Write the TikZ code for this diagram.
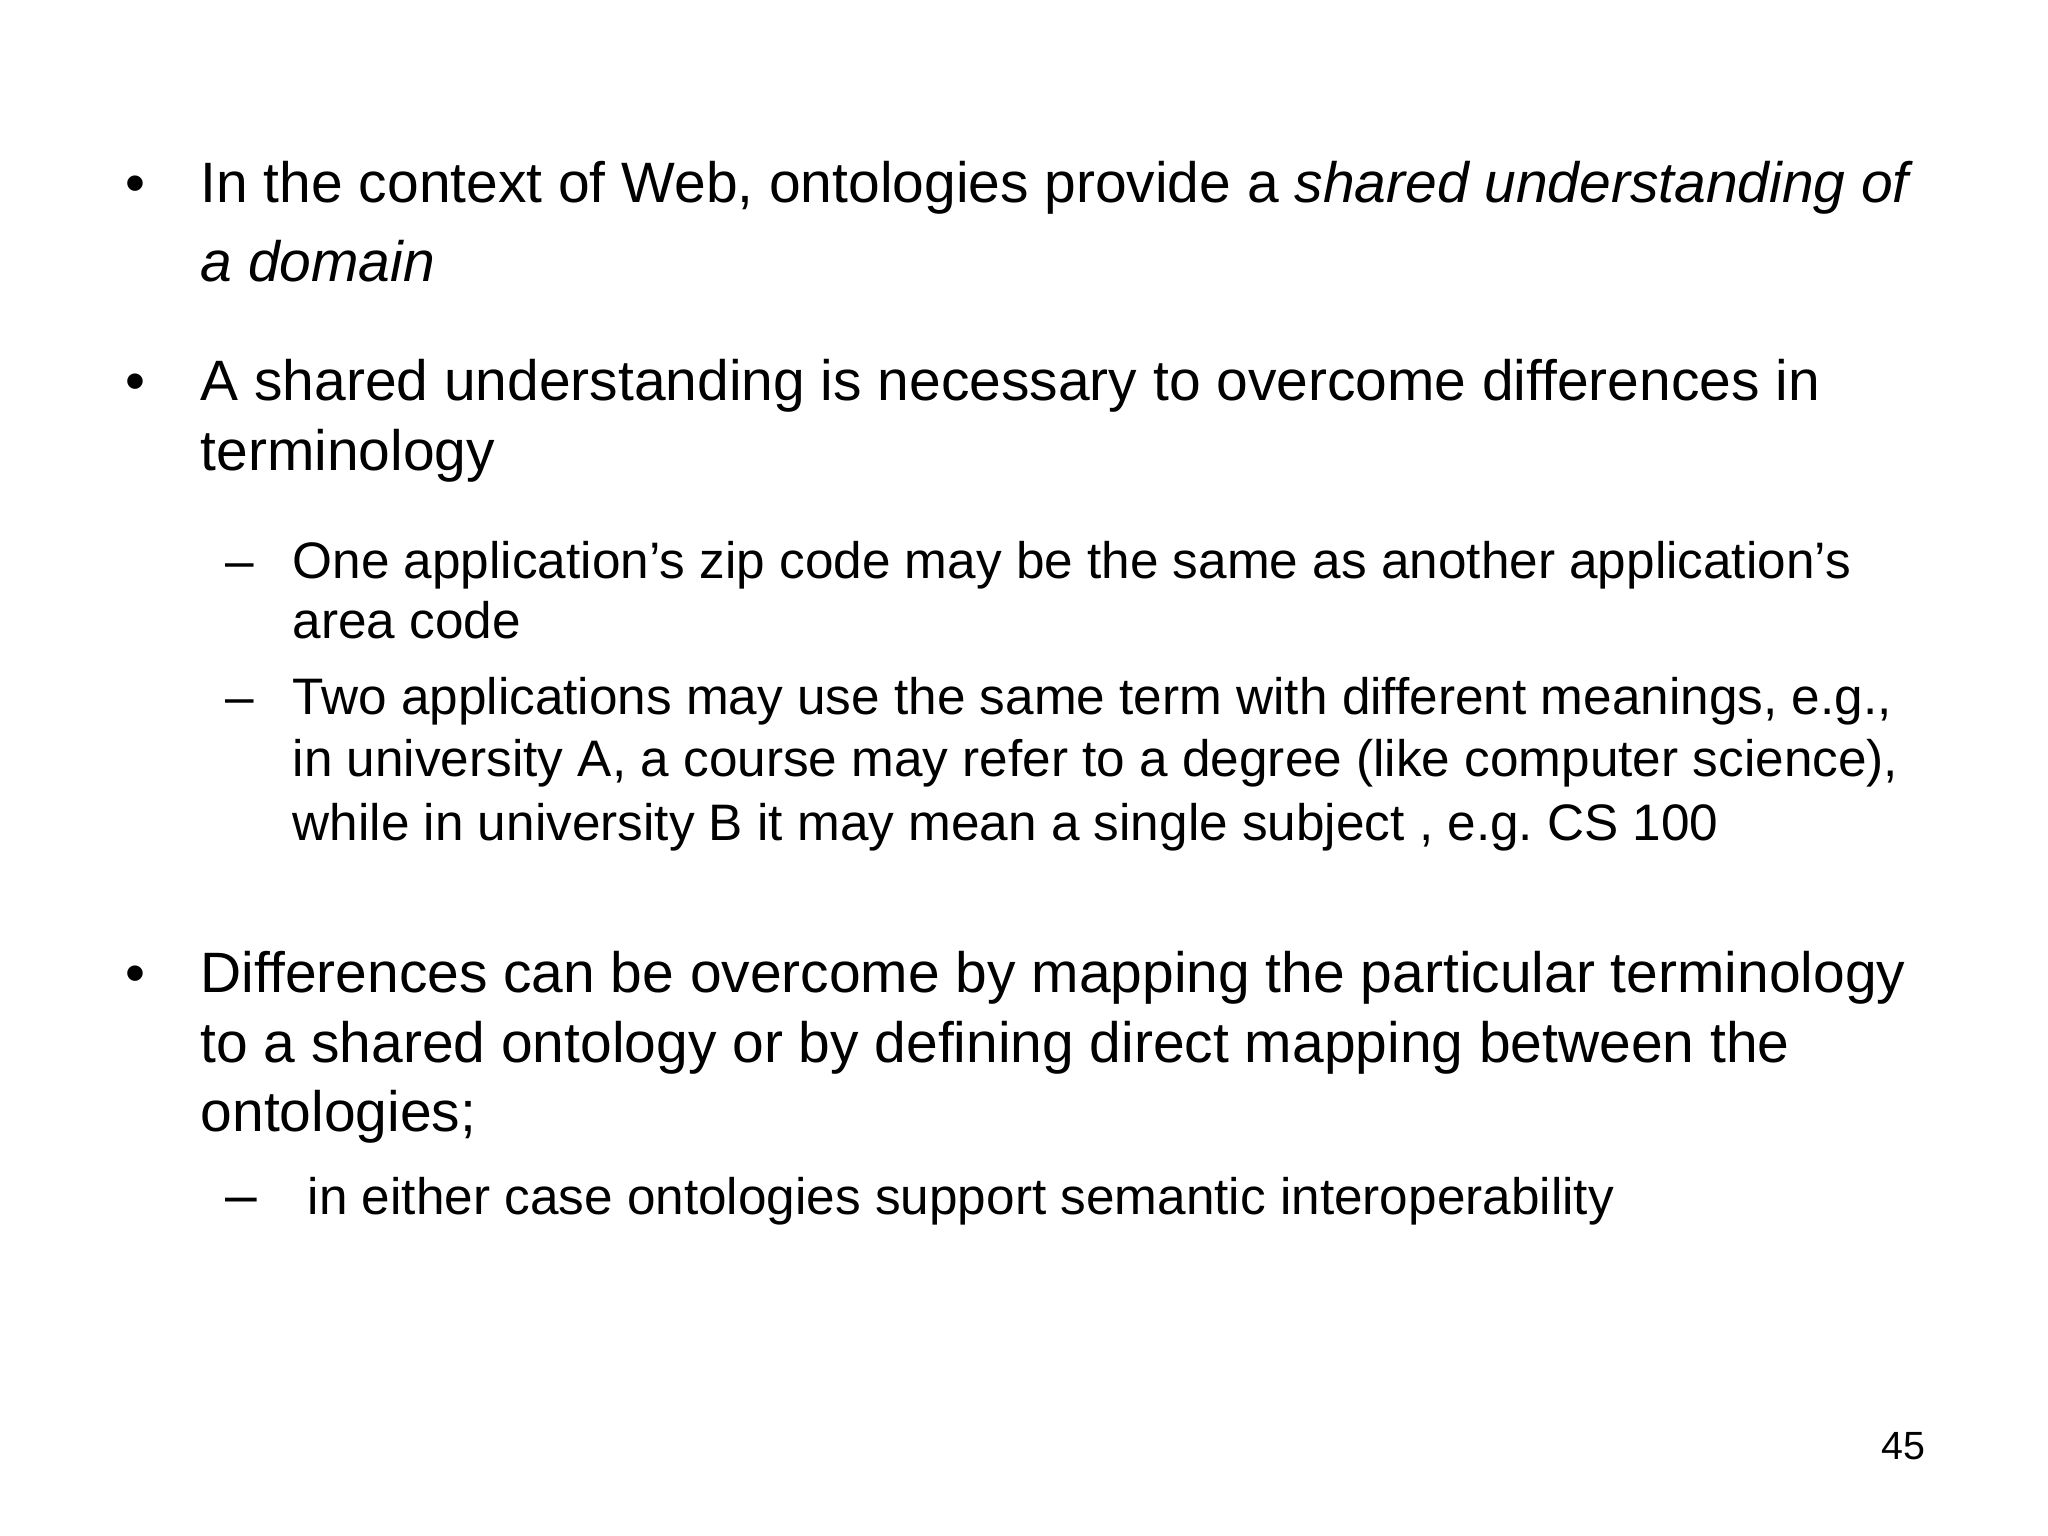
\documentclass[tikz,border=0pt]{standalone}
\usepackage{fontspec}
\setmainfont{Liberation Sans}
\frenchspacing
\begin{document}
\begin{tikzpicture}[
  big/.style={anchor=base west,inner sep=0pt,font=\fontsize{16.2}{19}\selectfont},
  sml/.style={anchor=base west,inner sep=0pt,font=\fontsize{14.6}{17}\selectfont}]
\useasboundingbox (0,0) rectangle (20.48,15.36);
\node[big] (b1) at (1.25,13.33) {•};
\node[big] (l1) at (2.0,13.33) {In the context of Web, ontologies provide a \textit{shared understanding of}};
\node[big] (l2) at (2.0,12.54) {\textit{a domain}};
\node[big] (b2) at (1.25,11.35) {•};
\node[big] (l3) at (2.0,11.35) {A shared understanding is necessary to overcome differences in};
\node[big] (l4) at (2.0,10.65) {terminology};
\node[sml] (d1) at (2.25,9.57) {–};
\node[sml] (s1) at (2.92,9.57) {One application’s zip code may be the same as another application’s};
\node[sml] (s2) at (2.92,8.97) {area code};
\node[sml] (d2) at (2.25,8.21) {–};
\node[sml] (s3) at (2.92,8.21) {Two applications may use the same term with different meanings, e.g.,};
\node[sml] (s4) at (2.92,7.59) {in university A, a course may refer to a degree (like computer science),};
\node[sml] (s5) at (2.92,6.95) {while in university B it may mean a single subject , e.g. CS 100};
\node[big] (b3) at (1.25,5.43) {•};
\node[big] (l5) at (2.0,5.43) {Differences can be overcome by mapping the particular terminology};
\node[big] (l6) at (2.0,4.73) {to a shared ontology or by defining direct mapping between the};
\node[big] (l7) at (2.0,4.04) {ontologies;};
\node[big] (d3) at (2.25,3.21) {–};
\node[sml] (s6) at (3.07,3.21) {in either case ontologies support semantic interoperability};
\node[anchor=base east,inner sep=0pt,font=\fontsize{11.2}{13}\selectfont] (pg) at (19.26,0.76) {45};
\end{tikzpicture}
\end{document}
